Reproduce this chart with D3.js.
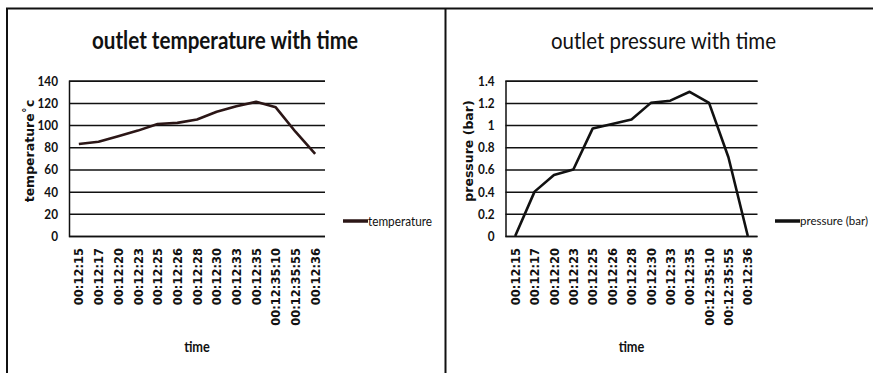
<!DOCTYPE html>
<html>
<head>
<meta charset="utf-8">
<script src="https://cdn.jsdelivr.net/npm/d3@7/dist/d3.min.js"></script>
<style>
  html, body { margin: 0; padding: 0; background: #fff; }
  svg { display: block; }
</style>
</head>
<body>
<svg id="chart" width="873" height="373"></svg>
<script>
// Sample times shared by both charts
const times = ["00:12:15", "00:12:17", "00:12:20", "00:12:23", "00:12:25", "00:12:26",
  "00:12:28", "00:12:30", "00:12:33", "00:12:35", "00:12:35:10", "00:12:35:55", "00:12:36"];

// Outlet temperature (°C) at each sample
const temperature = [83, 85, 90, 95, 101, 102, 105, 112, 117, 121, 116, 94, 74];

// Outlet pressure (bar) at each sample
const pressure = [0, 0.4, 0.55, 0.6, 0.97, 1.01, 1.05, 1.2, 1.22, 1.3, 1.2, 0.71, 0];

const temperatureTicks = [0, 20, 40, 60, 80, 100, 120, 140];
const pressureTicks = [0, 0.2, 0.4, 0.6, 0.8, 1, 1.2, 1.4];

const svg = d3.select("#chart");
const humanist = "Lato, 'Open Sans', sans-serif";
const wide = "'DejaVu Sans', Verdana, sans-serif";

// Squeeze a text horizontally to a narrower, condensed look
function condense(sel, factor) {
  sel.each(function () {
    const w = this.getComputedTextLength();
    d3.select(this).attr("textLength", w * factor).attr("lengthAdjust", "spacingAndGlyphs");
  });
}

// Panel frame: top rule, left rule and the divider between the two charts
svg.append("line").attr("x1", 6).attr("x2", 873).attr("y1", 8.5).attr("y2", 8.5)
  .attr("stroke", "#111").attr("stroke-width", 2);
svg.append("line").attr("x1", 7).attr("x2", 7).attr("y1", 8).attr("y2", 373)
  .attr("stroke", "#111").attr("stroke-width", 2);
svg.append("line").attr("x1", 445.5).attr("x2", 445.5).attr("y1", 8).attr("y2", 373)
  .attr("stroke", "#111").attr("stroke-width", 2);

function drawChart(cfg) {
  const g = svg.append("g");
  const x = d3.scalePoint().domain(times).range([cfg.left, cfg.right]).padding(0.5);
  const y = d3.scaleLinear().domain([0, d3.max(cfg.ticks)]).range([236, 80.7]);

  // Title
  g.append("text")
    .attr("x", cfg.titleX).attr("y", 49)
    .attr("text-anchor", "middle")
    .style("font-family", humanist)
    .style("font-size", "24px")
    .style("font-weight", cfg.titleWeight)
    .attr("fill", "#111")
    .attr("textLength", cfg.titleWidth).attr("lengthAdjust", "spacingAndGlyphs")
    .text(cfg.title);

  // Horizontal gridlines with y tick labels
  const yAxis = d3.axisLeft(y).tickValues(cfg.ticks)
    .tickSize(-(cfg.right - cfg.left)).tickPadding(11)
    .tickFormat(d3.format("~g"));
  const ya = g.append("g").attr("transform", `translate(${cfg.left},0)`).call(yAxis);
  ya.select(".domain").attr("stroke", "#111").attr("stroke-width", 1.5);
  ya.selectAll(".tick line").attr("stroke", "#111").attr("stroke-width", 1.5);
  ya.selectAll(".tick text")
    .style("font-family", humanist).style("font-size", "14px").style("font-weight", "bold")
    .attr("fill", "#111")
    .call(condense, 0.84);

  // Category labels, rotated
  const xAxis = d3.axisBottom(x).tickSize(0).tickPadding(0);
  const xa = g.append("g").attr("transform", "translate(0,236)").call(xAxis);
  xa.select(".domain").remove();
  xa.selectAll(".tick text")
    .attr("transform", "rotate(-90)")
    .attr("x", -12).attr("y", 0).attr("dy", "0.36em")
    .attr("text-anchor", "end")
    .style("font-family", wide).style("font-size", "11.5px").style("font-weight", "bold")
    .attr("fill", "#111");

  // Axis titles
  g.append("text")
    .attr("transform", `translate(${cfg.yTitleX},151) rotate(-90)`)
    .attr("text-anchor", "middle").attr("dy", "0.35em")
    .style("font-family", wide).style("font-size", "12.5px").style("font-weight", "bold")
    .attr("fill", "#111")
    .text(cfg.yTitle);
  g.append("text")
    .attr("x", (cfg.left + cfg.right) / 2).attr("y", 352)
    .attr("text-anchor", "middle")
    .style("font-family", humanist).style("font-size", "15px").style("font-weight", "bold")
    .attr("fill", "#111")
    .text("time")
    .call(condense, 0.85);

  // Series line
  const line = d3.line().x((d, i) => x(times[i])).y(d => y(d));
  g.append("path").datum(cfg.values)
    .attr("d", line)
    .attr("fill", "none")
    .attr("stroke", cfg.color)
    .attr("stroke-width", 2.6)
    .attr("stroke-linejoin", "round");

  // Legend
  g.append("line")
    .attr("x1", cfg.legendX).attr("x2", cfg.legendX + 25)
    .attr("y1", 221).attr("y2", 221)
    .attr("stroke", cfg.color).attr("stroke-width", 3.5);
  g.append("text")
    .attr("x", cfg.legendX + 25).attr("y", 221).attr("dy", "0.35em")
    .style("font-family", humanist).style("font-size", cfg.legendSize)
    .attr("fill", "#111")
    .attr("textLength", cfg.legendWidth).attr("lengthAdjust", "spacingAndGlyphs")
    .text(cfg.legend);
}

drawChart({
  left: 69, right: 325, titleX: 225, title: "outlet temperature with time",
  titleWeight: "bold", titleWidth: 266,
  ticks: temperatureTicks, values: temperature, color: "#2b1616",
  yTitle: "temperature˚c", yTitleX: 30, legendX: 343, legend: "temperature",
  legendWidth: 64, legendSize: "13.5px"
});

drawChart({
  left: 505.5, right: 757.5, titleX: 663.5, title: "outlet pressure with time",
  titleWeight: "normal", titleWidth: 225,
  ticks: pressureTicks, values: pressure, color: "#111",
  yTitle: "pressure (bar)", yTitleX: 469, legendX: 775, legend: "pressure (bar)",
  legendWidth: 68, legendSize: "11.5px"
});
</script>
</body>
</html>
